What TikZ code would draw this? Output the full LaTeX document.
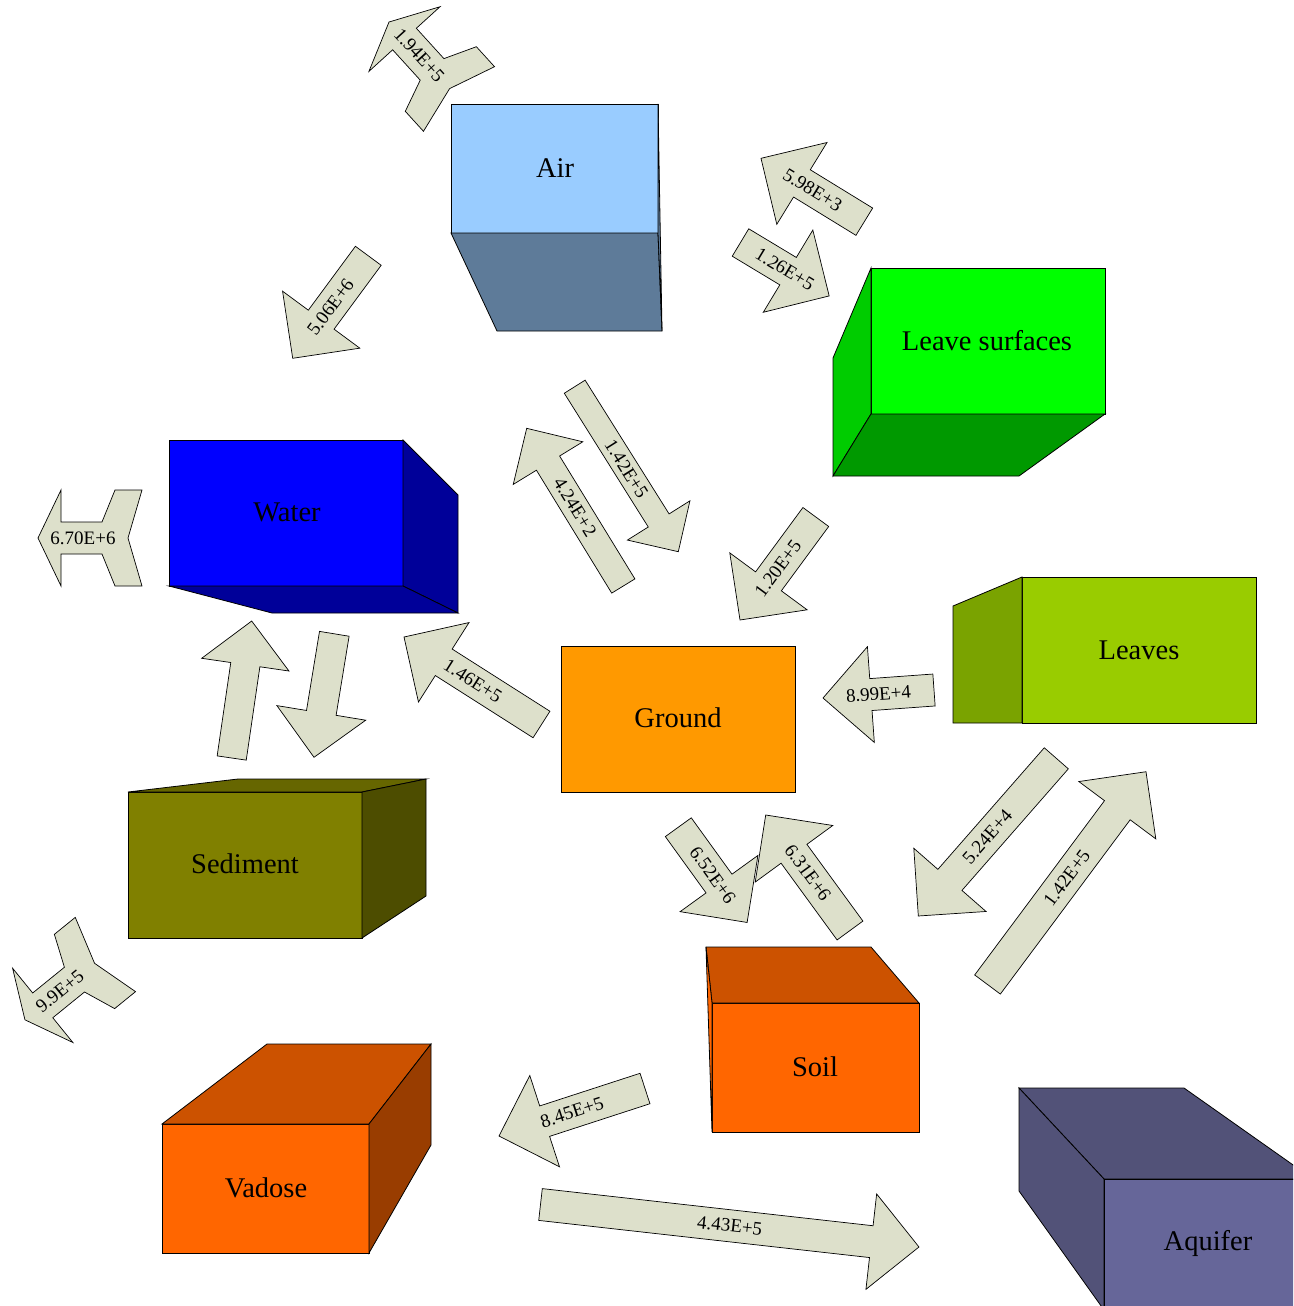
\documentclass[tikz,border=0pt]{standalone}
\usepackage{fontspec}
\setmainfont{Liberation Serif}
\definecolor{arrowfill}{HTML}{DDE0CB}
\definecolor{airfront}{HTML}{99CCFF}
\definecolor{airside}{HTML}{5E7B99}
\definecolor{lsfront}{HTML}{00FF00}
\definecolor{lsleft}{HTML}{00CC00}
\definecolor{lsbottom}{HTML}{009900}
\definecolor{waterfront}{HTML}{0000FF}
\definecolor{waterside}{HTML}{000099}
\definecolor{groundfill}{HTML}{FF9900}
\definecolor{leavesfront}{HTML}{99CC00}
\definecolor{leavesside}{HTML}{7AA300}
\definecolor{sedfront}{HTML}{808000}
\definecolor{sedtop}{HTML}{666600}
\definecolor{sedside}{HTML}{4D4D00}
\definecolor{orangefront}{HTML}{FF6600}
\definecolor{orangetop}{HTML}{CC5200}
\definecolor{orangeside}{HTML}{993D00}
\definecolor{aqfront}{HTML}{666699}
\definecolor{aqside}{HTML}{525278}
\tikzset{
  face/.style={draw=black, line width=0.8pt, line join=miter},
  flowshape/.style={draw=black, fill=arrowfill, line width=0.7pt, line join=miter},
  flowlabel/.style={font=\fontsize{19}{22}\selectfont, inner sep=0pt},
  boxlabel/.style={font=\fontsize{28.5}{34}\selectfont, inner sep=0pt},
}
% #1 name, #2 tail x, #3 tail y, #4 tip x, #5 tip y, #6 half shaft width, #7 text flip, #8 label
\newcommand\flowarrow[8]{%
  \pgfmathsetmacro\fAng{atan2(-((#5)-(#3)),(#4)-(#2))}%
  \pgfmathsetmacro\fLen{veclen((#4)-(#2),(#5)-(#3))}%
  \pgfmathsetmacro\fB{3*(#6)}%
  \pgfmathsetmacro\fHb{\fLen-3*(#6)}%
  \pgfmathsetmacro\fMid{\fLen/2}%
  \pgfmathsetmacro\fTxt{\fAng+#7}%
  \begin{scope}[shift={(#2,#3)},rotate=\fAng]
    \draw[flowshape] (0,-#6) -- (\fHb,-#6) -- (\fHb,-\fB) -- (\fLen,0) -- (\fHb,\fB) -- (\fHb,#6) -- (0,#6) -- cycle;
    \node[flowlabel,rotate=\fTxt] (#1) at (\fMid,0) {#8};
  \end{scope}}
% outflow arrow: #1 name, #2 tail x, #3 tail y, #4 tip x, #5 tip y, #6 text flip, #7 label
\newcommand\outflow[7]{%
  \pgfmathsetmacro\fAng{atan2(-((#5)-(#3)),(#4)-(#2))}%
  \pgfmathsetmacro\fS{veclen((#4)-(#2),(#5)-(#3))/104}%
  \pgfmathsetmacro\fTxt{\fAng+#6}%
  \begin{scope}[shift={(#2,#3)},rotate=\fAng,scale=\fS]
    \draw[flowshape] (0,48) -- (14,0) -- (0,-48) -- (27,-48) -- (40,-16) -- (81,-16) -- (81,-48) -- (104,0) -- (81,48) -- (81,16) -- (40,16) -- (27,48) -- cycle;
    \node[flowlabel,rotate=\fTxt] (#1) at (59,0) {#7};
  \end{scope}}
\begin{document}
\begin{tikzpicture}[x=1pt,y=-1pt]
\useasboundingbox (0,0) rectangle (1293,1306);
\clip (0,0) rectangle (1293,1306);
\fill[white] (0,0) rectangle (1293,1306);

% Air
\filldraw[face,fill=airfront] (451,104) rectangle (658,233);
\filldraw[face,fill=airside] (451,233) -- (658,233) -- (662,331) -- (497,331) -- cycle;
\filldraw[face,fill=airside] (658,104) -- (662,331) -- (658,233) -- cycle;
\node[boxlabel] (air) at (555,168) {Air};

% Leave surfaces
\filldraw[face,fill=lsfront] (871,268) rectangle (1105,414);
\filldraw[face,fill=lsleft] (871,268) -- (833,358) -- (833,476) -- (871,414) -- cycle;
\filldraw[face,fill=lsbottom] (871,414) -- (1105,414) -- (1019,476) -- (833,476) -- cycle;
\node[boxlabel] (leavesurf) at (987,341) {Leave surfaces};

% Water
\filldraw[face,fill=waterfront] (169,440) rectangle (403,586);
\filldraw[face,fill=waterside] (403,440) -- (458,495) -- (458,613) -- (403,586) -- cycle;
\filldraw[face,fill=waterside] (169,586) -- (403,586) -- (458,613) -- (272,613) -- cycle;
\node[boxlabel] (water) at (287,512) {Water};

% Ground
\filldraw[face,fill=groundfill] (561,646) rectangle (795,792);
\node[boxlabel] (ground) at (678,718) {Ground};

% Leaves
\filldraw[face,fill=leavesfront] (1022,577) rectangle (1256,723);
\filldraw[face,fill=leavesside] (1022,577) -- (953,606) -- (953,723) -- (1022,723) -- cycle;
\node[boxlabel] (leaves) at (1139,650) {Leaves};

% Sediment
\filldraw[face,fill=sedfront] (128,792) rectangle (362,938);
\filldraw[face,fill=sedtop] (128,792) -- (238,779) -- (426,779) -- (362,792) -- cycle;
\filldraw[face,fill=sedside] (362,792) -- (426,779) -- (426,896) -- (362,938) -- cycle;
\node[boxlabel] (sediment) at (245,864) {Sediment};

% Soil
\filldraw[face,fill=orangefront] (712,1003) rectangle (919,1132);
\filldraw[face,fill=orangetop] (706,947) -- (871,947) -- (919,1003) -- (712,1003) -- cycle;
\filldraw[face,fill=orangefront] (706,947) -- (712,1003) -- (712,1132) -- cycle;
\node[boxlabel] (soil) at (815,1067) {Soil};

% Vadose
\filldraw[face,fill=orangefront] (162,1124) rectangle (369,1253);
\filldraw[face,fill=orangetop] (162,1124) -- (267,1044) -- (431,1044) -- (369,1124) -- cycle;
\filldraw[face,fill=orangeside] (369,1124) -- (431,1044) -- (431,1145) -- (369,1253) -- cycle;
\node[boxlabel] (vadose) at (266,1188) {Vadose};

% Aquifer
\filldraw[face,fill=aqside] (1019,1088) -- (1184,1088) -- (1296,1167) -- (1296,1179) -- (1104,1179) -- cycle;
\filldraw[face,fill=aqside] (1019,1088) -- (1104,1179) -- (1104,1310) -- (1019,1191) -- cycle;
\filldraw[face,fill=aqfront] (1104,1179) rectangle (1298,1310);
\node[boxlabel] (aquifer) at (1208,1243) {Aquifer};

% outflow arrows
\outflow{f194}{459}{99}{389}{22}{180}{1.94E+5}
\outflow{f670}{142}{538}{38}{538}{180}{6.70E+6}
\outflow{f99}{105.4}{954.5}{24.7}{1020}{180}{9.9E+5}

% transfer arrows
\flowarrow{f506}{368.3}{255.8}{292.7}{358.3}{16}{180}{5.06E+6}
\flowarrow{f126}{740.5}{242.5}{829.3}{296}{16}{0}{1.26E+5}
\flowarrow{f598}{864.3}{221.7}{761}{158.3}{16}{180}{5.98E+3}
\flowarrow{f142a}{574.7}{386.7}{678.3}{551.7}{12.3}{0}{1.42E+5}
\flowarrow{f424}{623.3}{586}{526.7}{428.3}{13.6}{180}{4.24E+2}
\flowarrow{f120}{815.8}{517}{740}{620}{16}{180}{1.20E+5}
\flowarrow{f146}{541.5}{724.5}{404}{637}{15.7}{180}{1.46E+5}
\flowarrow{f899}{934}{690}{823}{698}{16}{180}{8.99E+4}
\flowarrow{fsedup}{231.7}{758}{251.7}{621}{14.7}{0}{}
\flowarrow{fseddown}{334.3}{633.8}{314}{757.3}{15}{0}{}
\flowarrow{f652}{678.3}{827.2}{747.3}{922.7}{16}{0}{6.52E+6}
\flowarrow{f631}{850}{930.5}{765.7}{815}{16}{180}{6.31E+6}
\flowarrow{f524}{1056.3}{758.3}{918.3}{916}{16}{180}{5.24E+4}
\flowarrow{f142b}{987.5}{984.5}{1146}{771.7}{16}{0}{1.42E+5}
\flowarrow{f845}{645}{1088.5}{499}{1136}{16}{180}{8.45E+5}
\flowarrow{f443}{540.5}{1204.5}{919}{1247}{16}{0}{4.43E+5}
\end{tikzpicture}
\end{document}
